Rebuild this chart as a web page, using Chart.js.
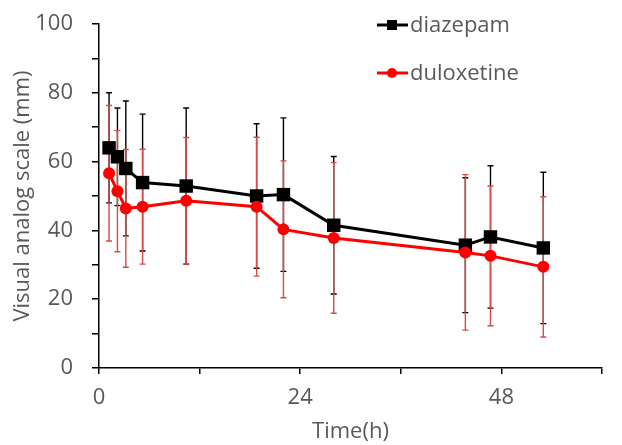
<!DOCTYPE html>
<html>
<head>
<meta charset="utf-8">
<script src="https://cdn.jsdelivr.net/npm/chart.js@4.4.0/dist/chart.umd.min.js"></script>
<style>
  html, body { margin: 0; padding: 0; background: #fff; }
  #wrap { width: 622px; height: 445px; position: relative; }
</style>
</head>
<body>
<div id="wrap"><canvas id="chart"></canvas></div>
<script>
// Data
const timesH = [1.2, 2.2, 3.2, 5.2, 10.4, 18.8, 22, 28, 43.7, 46.7, 53];
const diazepam = [64.0, 61.4, 58.0, 53.9, 52.9, 50.0, 50.4, 41.5, 35.7, 38.1, 34.9];
const diazepamSD = [16.0, 14.2, 19.6, 19.9, 22.7, 21.0, 22.3, 20.0, 19.6, 20.7, 22.0];
const duloxetine = [56.6, 51.4, 46.4, 46.9, 48.6, 46.9, 40.3, 37.8, 33.6, 32.6, 29.4];
const duloxetineSD = [19.7, 17.6, 17.1, 16.7, 18.4, 20.2, 19.9, 21.9, 22.6, 20.3, 20.4];
const xTickLabels = [0, 24, 48];
const yTickLabels = [0, 20, 40, 60, 80, 100];

const textColor = '#595959';
const fontFamily = '"Open Sans", sans-serif';

function toPoints(vals) {
    return timesH.map((t, i) => ({ x: t, y: vals[i] }));
}

// error bars drawn through the chart scales
const errorBars = {
    id: 'errorBars',
    beforeDatasetsDraw(chart) {
        const { ctx, scales: { x, y } } = chart;
        const sets = [
            { vals: diazepam, sd: diazepamSD, color: '#000000' },
            { vals: duloxetine, sd: duloxetineSD, color: '#d84a4a' }
        ];
        ctx.save();
        sets.forEach(s => {
            ctx.strokeStyle = s.color;
            ctx.lineWidth = 1.4;
            timesH.forEach((t, i) => {
                const px = x.getPixelForValue(t);
                const top = y.getPixelForValue(s.vals[i] + s.sd[i]);
                const bot = y.getPixelForValue(s.vals[i] - s.sd[i]);
                ctx.beginPath();
                ctx.moveTo(px, top); ctx.lineTo(px, bot);
                ctx.moveTo(px - 3, top); ctx.lineTo(px + 3, top);
                ctx.moveTo(px - 3, bot); ctx.lineTo(px + 3, bot);
                ctx.stroke();
            });
        });
        ctx.restore();
    }
};

// legend in the top right corner
const cornerLegend = {
    id: 'cornerLegend',
    afterDraw(chart) {
        const { ctx } = chart;
        const rows = [
            { ds: chart.data.datasets[0], y: 25 },
            { ds: chart.data.datasets[1], y: 73 }
        ];
        ctx.save();
        rows.forEach(r => {
            ctx.strokeStyle = r.ds.borderColor;
            ctx.lineWidth = 3;
            ctx.beginPath();
            ctx.moveTo(377, r.y); ctx.lineTo(408, r.y);
            ctx.stroke();
            ctx.fillStyle = r.ds.borderColor;
            if (r.ds.pointStyle === 'rect') {
                ctx.fillRect(387, r.y - 5, 10, 10);
            } else {
                ctx.beginPath();
                ctx.arc(392, r.y, 5, 0, Math.PI * 2);
                ctx.fill();
            }
            ctx.fillStyle = textColor;
            ctx.font = '22px ' + fontFamily;
            ctx.textBaseline = 'middle';
            ctx.fillText(r.ds.label, 410, r.y + 1);
        });
        ctx.restore();
    }
};

new Chart(document.getElementById('chart'), {
    type: 'line',
    data: {
        datasets: [{
            label: 'diazepam',
            data: toPoints(diazepam),
            borderColor: '#000000',
            backgroundColor: '#000000',
            borderWidth: 3,
            pointStyle: 'rect',
            pointRadius: 9.5,
            pointBorderWidth: 0,
            order: 1
        }, {
            label: 'duloxetine',
            data: toPoints(duloxetine),
            borderColor: '#ff0000',
            backgroundColor: '#ff0000',
            borderWidth: 3,
            pointStyle: 'circle',
            pointRadius: 6,
            pointBorderWidth: 0,
            order: 0
        }]
    },
    options: {
        responsive: true,
        maintainAspectRatio: false,
        animation: false,
        layout: { padding: { top: 24, right: 20, left: 0, bottom: 0 } },
        plugins: {
            legend: { display: false },
            tooltip: { enabled: false }
        },
        scales: {
            x: {
                type: 'linear',
                min: 0,
                max: 60,
                afterFit: s => { s.height = 77; s.paddingLeft = 0; s.paddingRight = 0; },
                border: { color: '#000', width: 1.5 },
                grid: { drawOnChartArea: false, color: '#000', lineWidth: 1.5, tickLength: 6 },
                ticks: {
                    stepSize: 12,
                    color: textColor,
                    padding: 11,
                    font: { family: fontFamily, size: 22 },
                    callback: v => xTickLabels.includes(v) ? v : ''
                },
                title: {
                    display: true,
                    text: 'Time(h)',
                    color: textColor,
                    font: { family: fontFamily, size: 22 },
                    padding: { top: 0, bottom: 0 }
                }
            },
            y: {
                min: 0,
                max: 100,
                afterFit: s => { s.width = 99; s.paddingTop = 0; s.paddingBottom = 0; },
                border: { color: '#000', width: 1.5 },
                grid: { drawOnChartArea: false, color: '#000', lineWidth: 1.5, tickLength: 7 },
                ticks: {
                    stepSize: 10,
                    color: textColor,
                    padding: 19,
                    font: { family: fontFamily, size: 22 },
                    callback: v => yTickLabels.includes(v) ? v : ''
                },
                title: {
                    display: true,
                    text: 'Visual analog scale (mm)',
                    color: textColor,
                    font: { family: fontFamily, size: 22 },
                    padding: { top: 10, bottom: 0 }
                }
            }
        }
    },
    plugins: [errorBars, cornerLegend]
});
</script>
</body>
</html>
